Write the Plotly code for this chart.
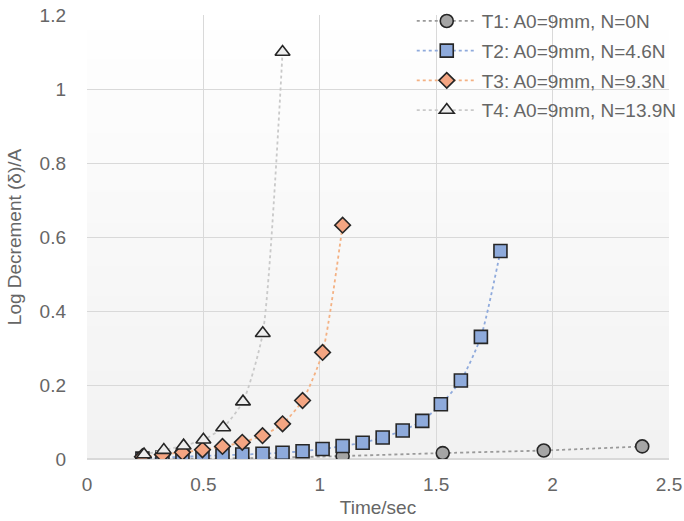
import plotly.graph_objects as go

# ---- data ----
t1_x = [0.238, 0.667, 1.098, 1.528, 1.962, 2.385]
t1_y = [0.000, 0.002, 0.008, 0.016, 0.023, 0.034]

t2_x = [0.238, 0.324, 0.41, 0.496, 0.582, 0.667, 0.754, 0.84, 0.926, 1.012,
        1.098, 1.184, 1.27, 1.356, 1.44, 1.52, 1.606, 1.692, 1.776]
t2_y = [0.001, 0.004, 0.006, 0.008, 0.010, 0.012, 0.014, 0.017, 0.021, 0.027,
        0.035, 0.044, 0.058, 0.077, 0.103, 0.148, 0.212, 0.330, 0.562]

t3_x = [0.238, 0.324, 0.41, 0.496, 0.582, 0.667, 0.754, 0.84, 0.926, 1.012, 1.098]
t3_y = [0.006, 0.012, 0.018, 0.025, 0.034, 0.045, 0.063, 0.095, 0.158, 0.288, 0.632]

t4_x = [0.245, 0.33, 0.415, 0.50, 0.585, 0.67, 0.755, 0.84]
t4_y = [0.012, 0.024, 0.036, 0.052, 0.085, 0.155, 0.340, 1.100]

names = ["T1: A0=9mm, N=0N", "T2: A0=9mm, N=4.6N",
         "T3: A0=9mm, N=9.3N", "T4: A0=9mm, N=13.9N"]

x_ticks = [0, 0.5, 1, 1.5, 2, 2.5]
x_tick_text = ["0", "0.5", "1", "1.5", "2", "2.5"]
y_ticks = [0, 0.2, 0.4, 0.6, 0.8, 1.0, 1.2]
y_tick_text = ["0", "0.2", "0.4", "0.6", "0.8", "1", "1.2"]

FONT = "Liberation Sans, Arial, sans-serif"
TXT = "#666666"
EDGE = "#262626"

styles = [
    dict(line="#9a9a9a", fill="#a5a5a5", symbol="circle", size=13),
    dict(line="#8faadc", fill="#8eaadb", symbol="square", size=13),
    dict(line="#f4b183", fill="#f4a582", symbol="diamond", size=12),
    dict(line="#c9c9c9", fill="#ededed", symbol="triangle-up", size=13),
]

fig = go.Figure()
for i, ((xs, ys), nm, st) in enumerate(zip([(t1_x, t1_y), (t2_x, t2_y), (t3_x, t3_y), (t4_x, t4_y)], names, styles)):
    fig.add_trace(go.Scatter(
        x=xs, y=ys, name=nm, mode="lines+markers", legendgroup=f"g{i}",
        line=dict(color=st["line"], width=1.8, dash="dot", shape="spline", smoothing=0.6),
        marker=dict(symbol=st["symbol"], size=st["size"], color=st["fill"],
                    line=dict(color=EDGE, width=1.6)),
    ))

# subtle vertical gradient in the plot area
shapes = []
n = 30
for i in range(n):
    frac = i / n
    g = int(round(242 + (255 - 242) * frac))
    shapes.append(dict(type="rect", xref="paper", yref="paper",
                       x0=0, x1=1, y0=i / n, y1=(i + 1) / n + 0.002,
                       fillcolor=f"rgb({g},{g},{g})", line=dict(width=0),
                       layer="below"))

fig.update_layout(
    width=684, height=521,
    margin=dict(l=87, r=15, t=15, b=62, autoexpand=False),
    paper_bgcolor="white", plot_bgcolor="white",
    font=dict(family=FONT, size=19, color=TXT),
    shapes=shapes,
    showlegend=True,
    legend=dict(x=0.558, y=1.029, xanchor="left", yanchor="top",
                bgcolor="rgba(0,0,0,0)", font=dict(size=19, color=TXT),
                itemwidth=60, tracegroupgap=2),
    xaxis=dict(range=[0, 2.5], tickvals=x_ticks, ticktext=x_tick_text,
               showgrid=True, gridcolor="#d9d9d9", gridwidth=1.3,
               zeroline=False, showline=False, ticks="", ticklabelstandoff=12,
               title=dict(text="Time/sec", font=dict(size=19, color=TXT), standoff=6)),
    yaxis=dict(range=[0, 1.2], tickvals=y_ticks, ticktext=y_tick_text,
               showgrid=True, gridcolor="#d9d9d9", gridwidth=1.3,
               zeroline=True, zerolinecolor="#d9d9d9", zerolinewidth=1.5,
               showline=False, ticks="", ticklabelstandoff=20,
               title=dict(text="Log Decrement (δ)/A", font=dict(size=19, color=TXT), standoff=12)),
)

fig.write_html("out.html")
